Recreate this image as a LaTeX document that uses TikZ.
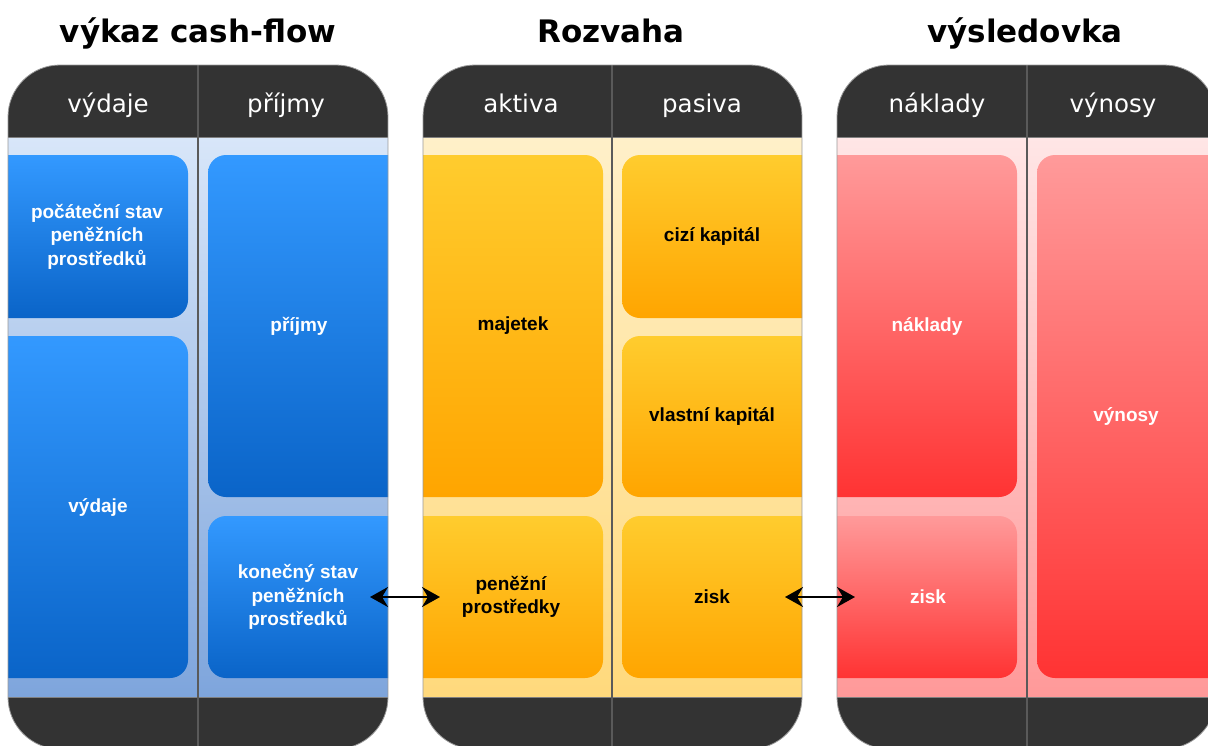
\documentclass[tikz,border=0pt]{standalone}
\usepackage{fontspec}
\usetikzlibrary{arrows.meta}
\newfontfamily\titlefont{DejaVu Sans}
\newfontfamily\boxfont{Liberation Sans}

\definecolor{hdrgray}{HTML}{333333}
\definecolor{divgray}{HTML}{5A5A5A}
\definecolor{bluebgtop}{HTML}{D8E6F9}
\definecolor{bluebgbot}{HTML}{7EA5DC}
\definecolor{blueboxtop}{HTML}{3399FF}
\definecolor{blueboxbot}{HTML}{0A64C8}
\definecolor{orabgtop}{HTML}{FFF0C9}
\definecolor{orabgbot}{HTML}{FFD97C}
\definecolor{oraboxtop}{HTML}{FFCC2E}
\definecolor{oraboxbot}{HTML}{FFA500}
\definecolor{redbgtop}{HTML}{FFE6E6}
\definecolor{redbgbot}{HTML}{FF9999}
\definecolor{redboxtop}{HTML}{FF9A9A}
\definecolor{redboxbot}{HTML}{FF3333}

% one statement column pair: #1 left edge, #2 divider, #3 right edge,
% #4/#5 body gradient, #6 the coloured blocks inside
\newcommand\statementpanel[6]{%
  \begin{scope}
    \clip[rounded corners=52pt] (#1,65) rectangle (#3,749);
    \fill[hdrgray] (#1,65) rectangle (#3,137);
    \shade[top color=#4, bottom color=#5] (#1,137) rectangle (#3,697);
    #6
    \fill[hdrgray] (#1,697) rectangle (#3,749);
  \end{scope}
  \draw[thingray] (#1,137) -- (#3,137);
  \draw[thingray] (#1,697) -- (#3,697);
  \draw[divline] (#2,65) -- (#2,749);
  \draw[panelborder, rounded corners=52pt] (#1,65) rectangle (#3,749);
}

\begin{document}
\begin{tikzpicture}[x=1pt, y=-1pt,
  title/.style={font=\titlefont\bfseries\fontsize{31}{36}\selectfont, anchor=base, text=black},
  colhead/.style={font=\titlefont\fontsize{24.5}{28}\selectfont, anchor=base, text=white},
  boxlabel/.style={font=\boxfont\bfseries\fontsize{19}{23.5}\selectfont, align=center, inner sep=0pt},
  whitelabel/.style={boxlabel, text=white},
  darklabel/.style={boxlabel, text=black},
  bluebox/.style={top color=blueboxtop, bottom color=blueboxbot, rounded corners=18pt},
  orabox/.style={top color=oraboxtop, bottom color=oraboxbot, rounded corners=18pt},
  redbox/.style={top color=redboxtop, bottom color=redboxbot, rounded corners=18pt},
  thingray/.style={draw=gray, line width=0.8pt},
  divline/.style={draw=divgray, line width=2.2pt},
  panelborder/.style={draw=gray!80, line width=0.8pt},
  dblarrow/.style={line width=2.8pt, {Stealth[length=18pt,width=20pt,inset=6pt]}-{Stealth[length=18pt,width=20pt,inset=6pt]}}
]
\useasboundingbox (0,0) rectangle (1208,745);
\clip (0,0) rectangle (1208,745);

% ---- cash-flow statement ----
\statementpanel{8}{198}{388}{bluebgtop}{bluebgbot}{%
  \path[bluebox] (-30,155) rectangle (188,318);
  \path[bluebox] (-30,336) rectangle (188,678);
  \path[bluebox] (208,155) rectangle (420,497);
  \path[bluebox] (208,516) rectangle (420,678);
}
% ---- balance sheet ----
\statementpanel{423}{612}{802}{orabgtop}{orabgbot}{%
  \path[orabox] (390,155) rectangle (603,497);
  \path[orabox] (390,516) rectangle (603,678);
  \path[orabox] (622,155) rectangle (835,318);
  \path[orabox] (622,336) rectangle (835,497);
  \path[orabox] (622,516) rectangle (835,678);
}
% ---- income statement ----
\statementpanel{837}{1027}{1216}{redbgtop}{redbgbot}{%
  \path[redbox] (805,155) rectangle (1017,497);
  \path[redbox] (805,516) rectangle (1017,678);
  \path[redbox] (1037,155) rectangle (1250,678);
}

% titles
\node[title] (t1) at (198,42) {výkaz cash-flow};
\node[title] (t2) at (611,42) {Rozvaha};
\node[title] (t3) at (1025,42) {výsledovka};

% column headings
\node[colhead] (h1) at (108,112) {výdaje};
\node[colhead] (h2) at (286,112) {příjmy};
\node[colhead] (h3) at (521,112) {aktiva};
\node[colhead] (h4) at (702,112) {pasiva};
\node[colhead] (h5) at (937,112) {náklady};
\node[colhead] (h6) at (1113,112) {výnosy};

% block labels
\node[whitelabel] (pcs) at (97,236.5) {počáteční stav\\peněžních\\prostředků};
\node[whitelabel] (vyd) at (98,507) {výdaje};
\node[whitelabel] (prj) at (299,326) {příjmy};
\node[whitelabel] (kcs) at (298,597) {konečný stav\\peněžních\\prostředků};
\node[darklabel] (maj) at (513,326) {majetek};
\node[darklabel] (pp) at (511,597) {peněžní\\prostředky};
\node[darklabel] (ck) at (712,236.5) {cizí kapitál};
\node[darklabel] (vk) at (712,416.5) {vlastní kapitál};
\node[darklabel] (zp) at (712,597) {zisk};
\node[whitelabel] (nak) at (927,326) {náklady};
\node[whitelabel] (zv) at (928,597) {zisk};
\node[whitelabel] (vyn) at (1126,416.5) {výnosy};

% links between the statements
\coordinate (a1) at (370,597);
\coordinate (b1) at (440,597);
\coordinate (a2) at (785,597);
\coordinate (b2) at (855,597);
\draw[dblarrow] (a1) -- (b1);
\draw[dblarrow] (a2) -- (b2);
\end{tikzpicture}
\end{document}
